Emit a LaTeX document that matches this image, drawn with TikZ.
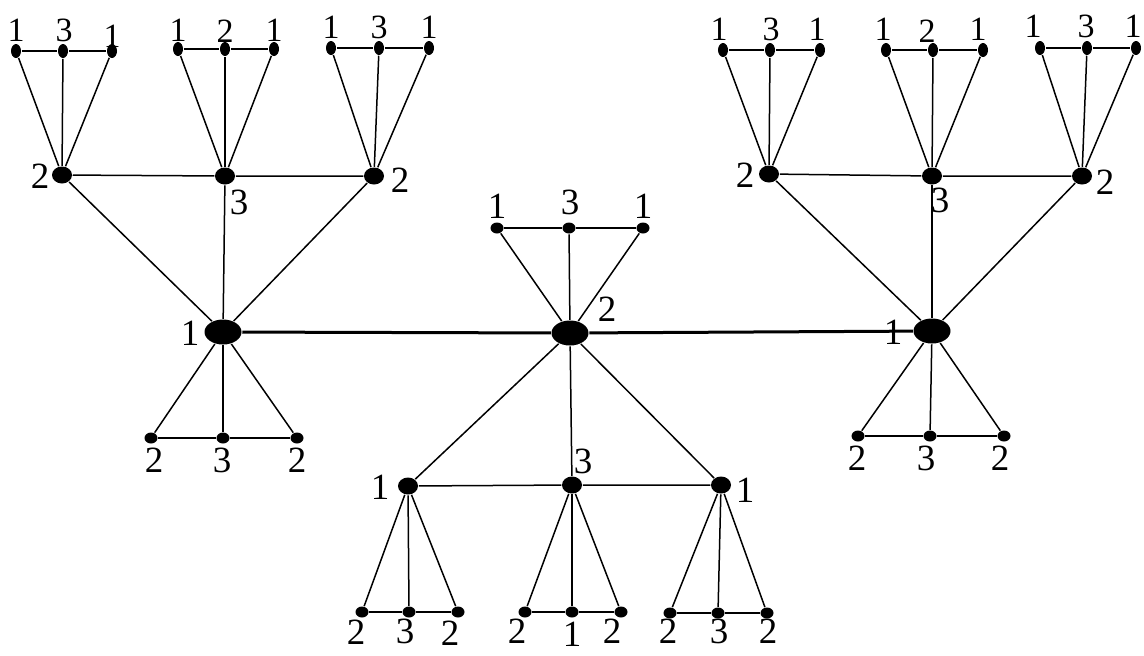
\documentclass[tikz,border=0pt]{standalone}
\usepackage{fontspec}
\setmainfont{Liberation Serif}
\usetikzlibrary{shapes.geometric}

\begin{document}
\begin{tikzpicture}[x=0.5pt, y=-0.5pt, line width=0.75pt,
    big/.style={ellipse, fill, inner sep=0pt, minimum width=18.5pt, minimum height=12.5pt},
    hub/.style={ellipse, fill, inner sep=0pt, minimum width=10pt, minimum height=8.5pt},
    leaf/.style={ellipse, fill, inner sep=0pt, minimum width=5pt, minimum height=7pt},
    leafw/.style={ellipse, fill, inner sep=0pt, minimum width=6.5pt, minimum height=5.5pt},
    lab/.style={inner sep=0pt, font=\fontsize{18.5}{21}\selectfont},
    slab/.style={inner sep=0pt, font=\fontsize{17}{20}\selectfont},
    rung/.style={line width=1pt}]
    \useasboundingbox (0,0) rectangle (1144,655);

    % Titik pusat (besar)
    \node[big] (L) at (223,332) {};
    \node[big] (C) at (570,333) {};
    \node[big] (R) at (932,331) {};
    \node[lab] (lL) at (190,333) {1};
    \node[lab] (lC) at (607,309) {2};
    \node[lab] (lR) at (893,332) {1};
    \draw[line width=1.5pt] (L) -- (C) -- (R);

    % Cabang atas kiri
    \node[hub] (LA) at (62,175) {};
    \node[hub] (LB) at (225,176) {};
    \node[hub] (LC) at (374,176) {};
    \node[lab] (lLA) at (40,176) {2};
    \node[lab] (lLB) at (239,202) {3};
    \node[lab] (lLC) at (400,180) {2};
    \draw (L) -- (LA);
    \draw (L) -- (LB);
    \draw (L) -- (LC);
    \draw (LA) -- (LB) -- (LC);

    \node[leaf] (LA1) at (16,51) {};
    \node[leaf] (LA2) at (63,51) {};
    \node[leaf] (LA3) at (112,51) {};
    \node[slab] (lLA1) at (16,30) {1};
    \node[slab] (lLA2) at (64,30) {3};
    \node[slab] (lLA3) at (112,36) {1};
    \node[leaf] (LB1) at (178,49) {};
    \node[leaf] (LB2) at (225,49) {};
    \node[leaf] (LB3) at (274,49) {};
    \node[slab] (lLB1) at (178,30) {1};
    \node[slab] (lLB2) at (225,31) {2};
    \node[slab] (lLB3) at (274,30) {1};
    \node[leaf] (LC1) at (331,48) {};
    \node[leaf] (LC2) at (379,48) {};
    \node[leaf] (LC3) at (429,48) {};
    \node[slab] (lLC1) at (331,27) {1};
    \node[slab] (lLC2) at (379,27) {3};
    \node[slab] (lLC3) at (429,27) {1};
    \foreach \g in {LA,LB,LC}{
        \draw (\g) -- (\g1);
        \draw (\g) -- (\g2);
        \draw (\g) -- (\g3);
        \draw[rung] (\g1) -- (\g2) -- (\g3);
    }

    % Cabang atas kanan
    \node[hub] (RA) at (769,174) {};
    \node[hub] (RB) at (932,176) {};
    \node[hub] (RC) at (1082,176) {};
    \node[lab] (lRA) at (745,175) {2};
    \node[lab] (lRB) at (940,200) {3};
    \node[lab] (lRC) at (1105,182) {2};
    \draw (R) -- (RA);
    \draw (R) -- (RB);
    \draw (R) -- (RC);
    \draw (RA) -- (RB) -- (RC);

    \node[leaf] (RA1) at (723,50) {};
    \node[leaf] (RA2) at (770,50) {};
    \node[leaf] (RA3) at (820,50) {};
    \node[slab] (lRA1) at (719,29) {1};
    \node[slab] (lRA2) at (771,29) {3};
    \node[slab] (lRA3) at (817,29) {1};
    \node[leaf] (RB1) at (886,50) {};
    \node[leaf] (RB2) at (933,50) {};
    \node[leaf] (RB3) at (983,50) {};
    \node[slab] (lRB1) at (883,29) {1};
    \node[slab] (lRB2) at (927,31) {2};
    \node[slab] (lRB3) at (978,29) {1};
    \node[leaf] (RC1) at (1040,48) {};
    \node[leaf] (RC2) at (1087,48) {};
    \node[leaf] (RC3) at (1136,48) {};
    \node[slab] (lRC1) at (1033,26) {1};
    \node[slab] (lRC2) at (1086,26) {3};
    \node[slab] (lRC3) at (1133,26) {1};
    \foreach \g in {RA,RB,RC}{
        \draw (\g) -- (\g1);
        \draw (\g) -- (\g2);
        \draw (\g) -- (\g3);
        \draw[rung] (\g1) -- (\g2) -- (\g3);
    }

    % Daun langsung dari titik pusat
    \node[leafw] (L1) at (151,438) {};
    \node[leafw] (L2) at (223,438) {};
    \node[leafw] (L3) at (297,438) {};
    \node[lab] (lL1) at (154,460) {2};
    \node[lab] (lL2) at (222,460) {3};
    \node[lab] (lL3) at (297,460) {2};
    \node[leafw] (C1) at (497,228) {};
    \node[leafw] (C2) at (569,228) {};
    \node[leafw] (C3) at (643,228) {};
    \node[lab] (lC1) at (497,206) {1};
    \node[lab] (lC2) at (570,202) {3};
    \node[lab] (lC3) at (643,206) {1};
    \node[leafw] (R1) at (858,436) {};
    \node[leafw] (R2) at (930,436) {};
    \node[leafw] (R3) at (1004,436) {};
    \node[lab] (lR1) at (857,458) {2};
    \node[lab] (lR2) at (926,458) {3};
    \node[lab] (lR3) at (1000,458) {2};
    \foreach \g in {L,C,R}{
        \draw (\g) -- (\g1);
        \draw (\g) -- (\g2);
        \draw (\g) -- (\g3);
        \draw[rung] (\g1) -- (\g2) -- (\g3);
    }

    % Cabang bawah tengah
    \node[hub] (DA) at (408,486) {};
    \node[hub] (DB) at (572,485) {};
    \node[hub] (DC) at (721,485) {};
    \node[lab] (lDA) at (380,487) {1};
    \node[lab] (lDB) at (583,461) {3};
    \node[lab] (lDC) at (745,490) {1};
    \draw (C) -- (DA);
    \draw (C) -- (DB);
    \draw (C) -- (DC);
    \draw (DA) -- (DB) -- (DC);

    \node[leafw] (DA1) at (362,612) {};
    \node[leafw] (DA2) at (409,612) {};
    \node[leafw] (DA3) at (458,612) {};
    \node[lab] (lDA1) at (356,632) {2};
    \node[lab] (lDA2) at (405,631) {3};
    \node[lab] (lDA3) at (450,633) {2};
    \node[leafw] (DB1) at (525,612) {};
    \node[leafw] (DB2) at (572,612) {};
    \node[leafw] (DB3) at (621,612) {};
    \node[lab] (lDB1) at (517,631) {2};
    \node[lab] (lDB2) at (572,634) {1};
    \node[lab] (lDB3) at (612,631) {2};
    \node[leafw] (DC1) at (670,613) {};
    \node[leafw] (DC2) at (718,613) {};
    \node[leafw] (DC3) at (767,613) {};
    \node[lab] (lDC1) at (668,631) {2};
    \node[lab] (lDC2) at (719,631) {3};
    \node[lab] (lDC3) at (768,631) {2};
    \foreach \g in {DA,DB,DC}{
        \draw (\g) -- (\g1);
        \draw (\g) -- (\g2);
        \draw (\g) -- (\g3);
        \draw[rung] (\g1) -- (\g2) -- (\g3);
    }
\end{tikzpicture}
\end{document}
